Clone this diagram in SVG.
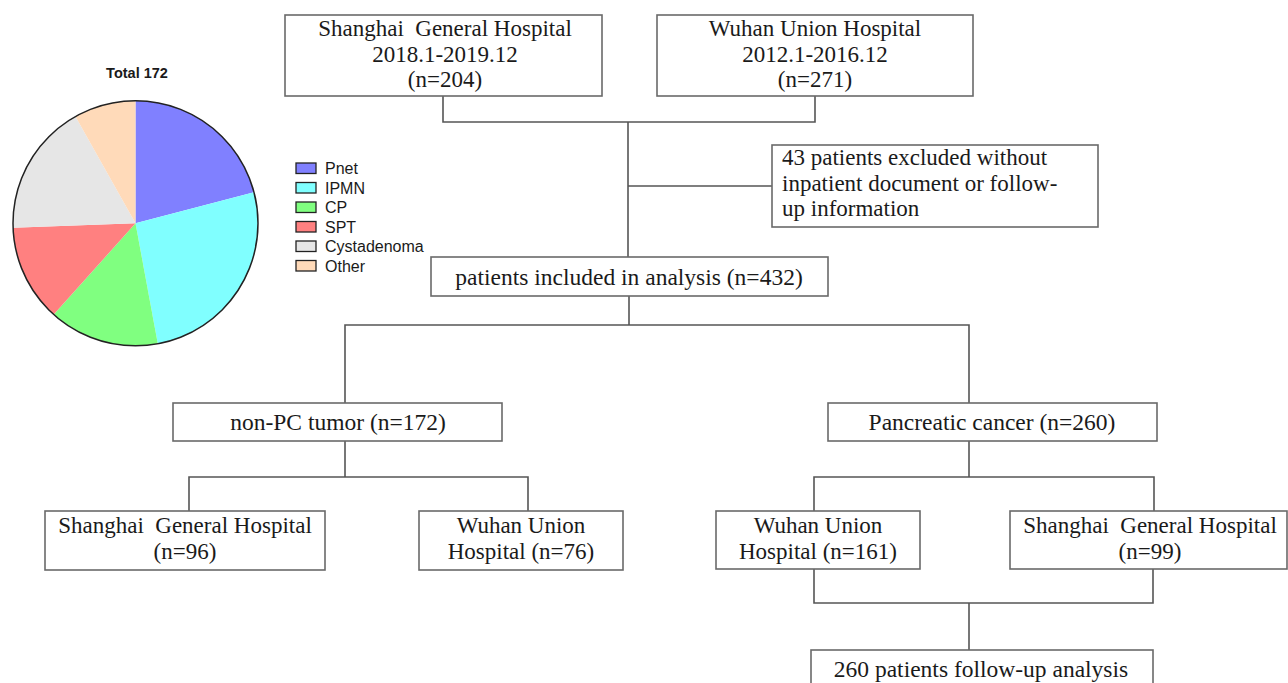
<svg xmlns="http://www.w3.org/2000/svg" width="1288" height="683" viewBox="0 0 1288 683">
<style>
.box{fill:#fff;stroke:#6a6a6a;stroke-width:1.6}
.t{font-family:"Liberation Serif","Times New Roman",serif;font-size:23px;fill:#1a1a1a;text-anchor:middle}
.t1{font-family:"Liberation Serif","Times New Roman",serif;font-size:23.5px;fill:#1a1a1a;text-anchor:middle}
.tl{font-family:"Liberation Serif","Times New Roman",serif;font-size:23px;fill:#1a1a1a}
.conn{fill:none;stroke:#555;stroke-width:1.6}
.lg{font-family:"Liberation Sans",Arial,sans-serif;font-size:16px;fill:#1a1a1a}
.lb{stroke:#222;stroke-width:1.3}
</style>
<rect width="1288" height="683" fill="#fff"/>
<g id="pie">
<text x="137" y="78" style="font-family:'Liberation Sans',Arial,sans-serif;font-size:14.5px;font-weight:bold;fill:#1a1a1a" text-anchor="middle">Total 172</text>
<path d="M135.5,223.3 L135.5,100.8 A122.5,122.5 0 0 1 254,192.3 Z" fill="#8080ff"/>
<path d="M135.5,223.3 L254,192.3 A122.5,122.5 0 0 1 157.8,343.8 Z" fill="#80ffff"/>
<path d="M135.5,223.3 L157.8,343.8 A122.5,122.5 0 0 1 53.7,314.5 Z" fill="#80ff80"/>
<path d="M135.5,223.3 L53.7,314.5 A122.5,122.5 0 0 1 13.1,227.8 Z" fill="#ff8080"/>
<path d="M135.5,223.3 L13.1,227.8 A122.5,122.5 0 0 1 75.5,116.5 Z" fill="#e6e6e6"/>
<path d="M135.5,223.3 L75.5,116.5 A122.5,122.5 0 0 1 135.5,100.8 Z" fill="#ffdab9"/>
<circle cx="135.5" cy="223.3" r="122.5" fill="none" stroke="#222" stroke-width="1.5"/>
</g>
<g id="legend">
<rect class="lb" x="296" y="163" width="20" height="10.5" fill="#8080ff"/>
<text class="lg" x="325" y="174">Pnet</text>
<rect class="lb" x="296" y="182.5" width="20" height="10.5" fill="#80ffff"/>
<text class="lg" x="325" y="193.5">IPMN</text>
<rect class="lb" x="296" y="202" width="20" height="10.5" fill="#80ff80"/>
<text class="lg" x="325" y="213">CP</text>
<rect class="lb" x="296" y="221.5" width="20" height="10.5" fill="#ff8080"/>
<text class="lg" x="325" y="232.5">SPT</text>
<rect class="lb" x="296" y="241" width="20" height="10.5" fill="#e6e6e6"/>
<text class="lg" x="325" y="252">Cystadenoma</text>
<rect class="lb" x="296" y="260.5" width="20" height="10.5" fill="#ffdab9"/>
<text class="lg" x="325" y="271.5">Other</text>
</g>
<g id="connectors">
<path class="conn" d="M443,96 V122 H815 V96"/>
<path class="conn" d="M628,122 V257"/>
<path class="conn" d="M628,186 H772"/>
<path class="conn" d="M629,296 V325"/>
<path class="conn" d="M345,403 V325 H969 V403"/>
<path class="conn" d="M345,441 V477"/>
<path class="conn" d="M189,511 V477 H528 V511"/>
<path class="conn" d="M969,441 V477"/>
<path class="conn" d="M814,511 V477 H1154 V511"/>
<path class="conn" d="M814,569 V603 H1153 V569"/>
<path class="conn" d="M969,603 V650"/>
</g>
<g id="n_sgh_top">
<rect class="box" x="285" y="15" width="317" height="81"/>
<text class="t" x="445" y="36">Shanghai&#160; General Hospital</text>
<text class="t" x="445" y="61.5">2018.1-2019.12</text>
<text class="t" x="445" y="87">(n=204)</text>
</g>
<g id="n_wuh_top">
<rect class="box" x="657" y="15" width="316" height="81"/>
<text class="t" x="815" y="36">Wuhan Union Hospital</text>
<text class="t" x="815" y="61.5">2012.1-2016.12</text>
<text class="t" x="815" y="87">(n=271)</text>
</g>
<g id="n_excluded">
<rect class="box" x="772" y="145" width="326" height="82"/>
<text class="tl" x="782" y="165">43 patients excluded without</text>
<text class="tl" x="782" y="190.5">inpatient document or follow-</text>
<text class="tl" x="782" y="216">up information</text>
</g>
<g id="n_included">
<rect class="box" x="431" y="257" width="397" height="39"/>
<text class="t1" x="629" y="285">patients included in analysis (n=432)</text>
</g>
<g id="n_nonpc">
<rect class="box" x="173" y="403" width="329" height="38"/>
<text class="t1" x="338" y="430">non-PC tumor (n=172)</text>
</g>
<g id="n_pc">
<rect class="box" x="828" y="403" width="329" height="38"/>
<text class="t1" x="992" y="430">Pancreatic cancer (n=260)</text>
</g>
<g id="n_sgh_nonpc">
<rect class="box" x="45" y="511" width="280" height="59"/>
<text class="t" x="185" y="533">Shanghai&#160; General Hospital</text>
<text class="t" x="185" y="558.5">(n=96)</text>
</g>
<g id="n_wuh_nonpc">
<rect class="box" x="419" y="511" width="204" height="59"/>
<text class="t" x="521" y="533">Wuhan Union</text>
<text class="t" x="521" y="558.5">Hospital (n=76)</text>
</g>
<g id="n_wuh_pc">
<rect class="box" x="716" y="511" width="204" height="58"/>
<text class="t" x="818" y="533">Wuhan Union</text>
<text class="t" x="818" y="558.5">Hospital (n=161)</text>
</g>
<g id="n_sgh_pc">
<rect class="box" x="1010" y="511" width="277" height="58"/>
<text class="t" x="1150" y="533">Shanghai&#160; General Hospital</text>
<text class="t" x="1150" y="558.5">(n=99)</text>
</g>
<g id="n_followup">
<rect class="box" x="811" y="650" width="342" height="40"/>
<text class="t1" x="981" y="677">260 patients follow-up analysis</text>
</g>
</svg>
